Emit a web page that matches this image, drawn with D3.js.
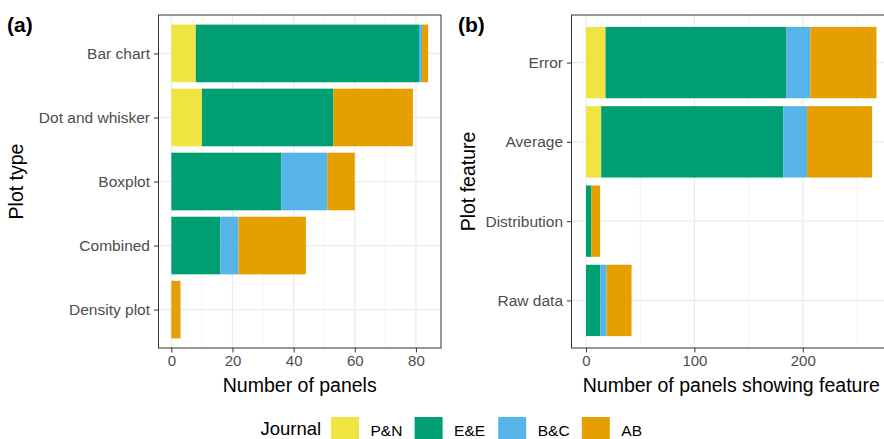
<!DOCTYPE html>
<html>
<head>
<meta charset="utf-8">
<script src="https://cdn.jsdelivr.net/npm/d3@7"></script>
<style>
  body { margin: 0; background: #fff; }
  svg { display: block; font-family: 'Liberation Sans', Arial, sans-serif; }
</style>
</head>
<body>
<script>
'use strict'

const journals = ['P&N', 'E&E', 'B&C', 'AB']
const journalColors = ['#F0E442', '#009E73', '#56B4E9', '#E69F00']

// panel (a): plot type
const plotTypes = ['Bar chart', 'Dot and whisker', 'Boxplot', 'Combined', 'Density plot']
const typePN = [8, 10, 0, 0, 0]
const typeEE = [73, 43, 36, 16, 0]
const typeBC = [1, 0, 15, 6, 0]
const typeAB = [2, 26, 9, 22, 3]
const typeTicks = [0, 20, 40, 60, 80]
const typeMinor = [10, 30, 50, 70]

// panel (b): plot feature
const features = ['Error', 'Average', 'Distribution', 'Raw data']
const featPN = [18, 14, 0, 0]
const featEE = [167, 168, 5, 13]
const featBC = [22, 22, 0, 6]
const featAB = [61, 60, 8, 23]
const featTicks = [0, 100, 200]
const featMinor = [50, 150, 250]

const width = 884
const height = 439
const tickColor = '#4d4d4d'
const gridColor = '#ebebeb'
const borderColor = '#333333'

const svg = d3.select('body').append('svg')
  .attr('width', width)
  .attr('height', height)

function toRows (cats, series) {
  return cats.map(function (c, i) {
    const row = { cat: c }
    journals.forEach(function (j, k) { row[j] = series[k][i] })
    return row
  })
}

function panel (opts) {
  const rows = toRows(opts.cats, opts.series)
  const maxTotal = d3.max(rows, function (r) {
    return d3.sum(journals, function (j) { return r[j] })
  })
  const pad = maxTotal * 0.05

  const x = d3.scaleLinear()
    .domain([-pad, maxTotal + pad])
    .range([opts.left, opts.right])

  const y = d3.scalePoint()
    .domain(opts.cats)
    .range([opts.top, opts.bottom])
    .padding(0.6)

  const barH = y.step() * 0.9
  const g = svg.append('g')

  g.selectAll('line.minor')
    .data(opts.minor)
    .enter().append('line')
    .attr('x1', x).attr('x2', x)
    .attr('y1', opts.top).attr('y2', opts.bottom)
    .attr('stroke', gridColor)
    .attr('stroke-width', 0.6)

  g.selectAll('line.major')
    .data(opts.ticks)
    .enter().append('line')
    .attr('x1', x).attr('x2', x)
    .attr('y1', opts.top).attr('y2', opts.bottom)
    .attr('stroke', gridColor)
    .attr('stroke-width', 1.2)

  g.selectAll('line.hgrid')
    .data(opts.cats)
    .enter().append('line')
    .attr('x1', opts.left).attr('x2', opts.right)
    .attr('y1', y).attr('y2', y)
    .attr('stroke', gridColor)
    .attr('stroke-width', 1.2)

  const stack = d3.stack().keys(journals)(rows)

  g.selectAll('g.layer')
    .data(stack)
    .enter().append('g')
    .attr('fill', function (d, i) { return journalColors[i] })
    .selectAll('rect')
    .data(function (d) { return d.filter(function (p) { return p[1] > p[0] }) })
    .enter().append('rect')
    .attr('x', function (d) { return x(d[0]) })
    .attr('width', function (d) { return x(d[1]) - x(d[0]) })
    .attr('y', function (d) { return y(d.data.cat) - barH / 2 })
    .attr('height', barH)

  g.append('rect')
    .attr('x', opts.left)
    .attr('y', opts.top)
    .attr('width', opts.right - opts.left)
    .attr('height', opts.bottom - opts.top)
    .attr('fill', 'none')
    .attr('stroke', borderColor)
    .attr('stroke-width', 1)

  const xAxis = g.append('g')
    .attr('transform', 'translate(0,' + opts.bottom + ')')
    .call(d3.axisBottom(x).tickValues(opts.ticks).tickSize(4.5).tickPadding(3))
  xAxis.select('.domain').remove()
  xAxis.selectAll('line').attr('stroke', borderColor)
  xAxis.selectAll('text')
    .attr('fill', tickColor)
    .style('font-size', '15px')
    .style('font-family', null)

  const yAxis = g.append('g')
    .attr('transform', 'translate(' + opts.left + ',0)')
    .call(d3.axisLeft(y).tickSize(4.5).tickPadding(4))
  yAxis.select('.domain').remove()
  yAxis.selectAll('line').attr('stroke', borderColor)
  yAxis.selectAll('text')
    .attr('fill', tickColor)
    .style('font-size', '15.5px')
    .style('font-family', null)

  g.append('text')
    .attr('x', (opts.left + opts.right) / 2)
    .attr('y', 391.5)
    .attr('text-anchor', 'middle')
    .style('font-size', '19.5px')
    .text(opts.xTitle)

  g.append('text')
    .attr('transform', 'translate(' + opts.yTitleX + ',' + (opts.top + opts.bottom) / 2 + ') rotate(-90)')
    .attr('text-anchor', 'middle')
    .style('font-size', '19.5px')
    .text(opts.yTitle)

  g.append('text')
    .attr('x', opts.tagX)
    .attr('y', 32)
    .style('font-size', '21px')
    .style('font-weight', 'bold')
    .text(opts.tag)
}

panel({
  cats: plotTypes,
  series: [typePN, typeEE, typeBC, typeAB],
  ticks: typeTicks,
  minor: typeMinor,
  left: 158.5,
  right: 441,
  top: 15,
  bottom: 348,
  xTitle: 'Number of panels',
  yTitle: 'Plot type',
  yTitleX: 23,
  tag: '(a)',
  tagX: 7
})

panel({
  cats: features,
  series: [featPN, featEE, featBC, featAB],
  ticks: featTicks,
  minor: featMinor,
  left: 571.5,
  right: 891,
  top: 15,
  bottom: 348,
  xTitle: 'Number of panels showing feature',
  yTitle: 'Plot feature',
  yTitleX: 475,
  tag: '(b)',
  tagX: 458
})

// legend
const legend = svg.append('g')

legend.append('text')
  .attr('x', 260.5)
  .attr('y', 435)
  .style('font-size', '18.5px')
  .text('Journal')

const items = legend.selectAll('g.item')
  .data(journals)
  .enter().append('g')
  .attr('transform', function (d, i) { return 'translate(' + (331 + i * 83.6) + ',417)' })

items.append('rect')
  .attr('width', 28)
  .attr('height', 28)
  .attr('fill', function (d, i) { return journalColors[i] })

items.append('text')
  .attr('x', 39.5)
  .attr('y', 19)
  .style('font-size', '15.5px')
  .text(function (d) { return d })
</script>
</body>
</html>
